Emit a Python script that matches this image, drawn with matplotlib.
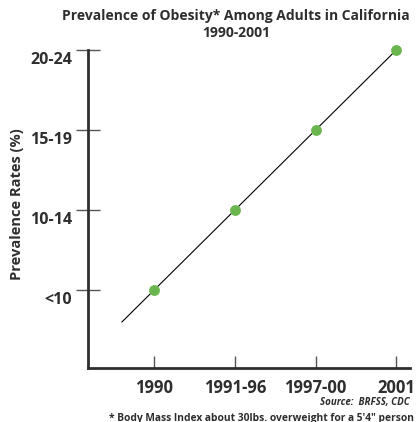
import numpy as np
import matplotlib
matplotlib.use("Agg")
import matplotlib.pyplot as plt
from matplotlib.transforms import ScaledTranslation

# Data
periods = ["1990", "1991-96", "1997-00", "2001"]
rate_levels = [0, 1, 2, 3]
level_labels = ["<10", "10-14", "15-19", "20-24"]
trend_start = -0.4

plt.rcParams["font.family"] = ["Open Sans", "DejaVu Sans"]
dark = "#2e2e2e"

fig = plt.figure(figsize=(4.16, 4.22), dpi=100)
ax = fig.add_axes([88 / 416, 1 - 368 / 422, 322 / 416, 318 / 422])

x = np.arange(len(periods))
coef = np.polyfit(x, rate_levels, 1)
tx = np.array([trend_start, x[-1]])
ax.plot(tx, np.polyval(coef, tx), color="black", lw=0.8, zorder=2)
ax.plot(x, rate_levels, "o", color="#6ab64e", ms=7.8, mec="none", zorder=3, clip_on=False)

ax.set_xlim(-0.82, 3.17)
ax.set_ylim(-0.975, 3.0)

for s in ["top", "right"]:
    ax.spines[s].set_visible(False)
for s in ["left", "bottom"]:
    ax.spines[s].set_color(dark)
    ax.spines[s].set_linewidth(2)

ax.set_xticks(x)
ax.set_xticklabels(periods, fontsize=12, fontweight="bold", color=dark)
ax.set_yticks(rate_levels)
ax.set_yticklabels(level_labels, fontsize=11.5, fontweight="bold", color=dark)
ax.tick_params(axis="x", direction="in", length=9, width=1, color="#555555", pad=8)
ax.tick_params(axis="y", direction="inout", length=17, width=1, color="#555555", pad=3)
offset = ScaledTranslation(0, -0.08, fig.dpi_scale_trans)
for lbl in ax.get_yticklabels():
    lbl.set_transform(lbl.get_transform() + offset)

fig.text(17 / 416, 1 - 204 / 422, "Prevalence Rates (%)", rotation=90,
         ha="center", va="center", fontsize=10.5, fontweight="bold", color=dark)

fig.text(236 / 416, 1 - 16 / 422, "Prevalence of Obesity* Among Adults in California",
         ha="center", va="center", fontsize=10, fontweight="bold", color=dark)
fig.text(236 / 416, 1 - 33 / 422, "1990-2001",
         ha="center", va="center", fontsize=10, fontweight="bold", color=dark)
fig.text(410 / 416, 1 - 403 / 422, "Source:  BRFSS, CDC",
         ha="right", va="center", fontsize=7, fontweight="bold", style="italic", color=dark)
fig.text(414 / 416, 1 - 418 / 422, "* Body Mass Index about 30lbs. overweight for a 5'4\" person",
         ha="right", va="center", fontsize=7.4, fontweight="bold", color=dark)

fig.savefig("out.png", dpi=100)
